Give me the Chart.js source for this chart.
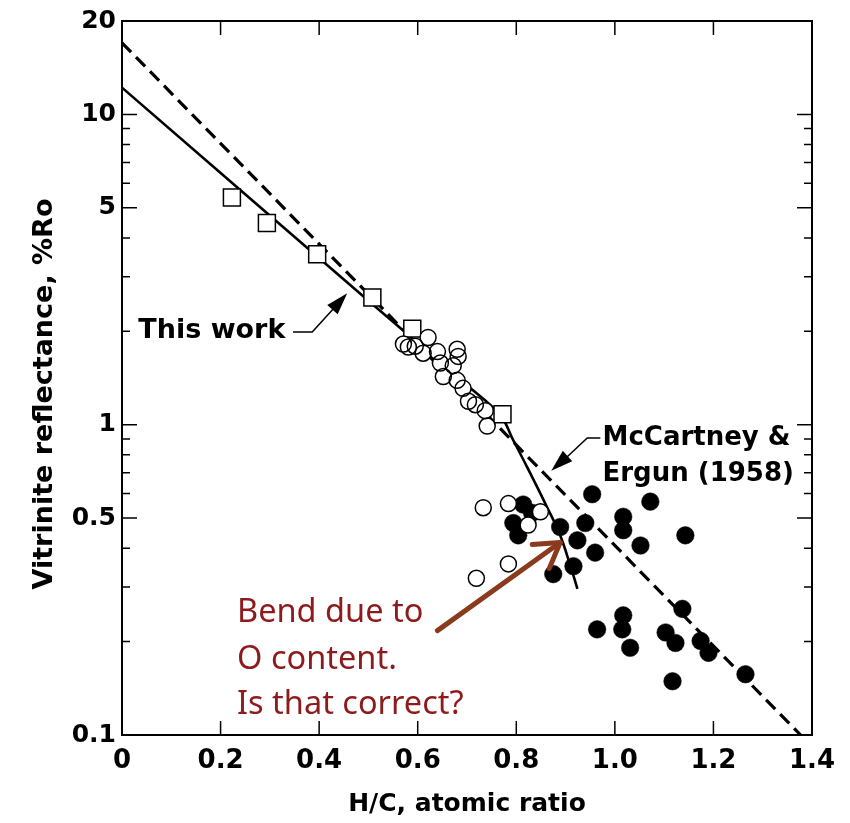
<!DOCTYPE html>
<html><head><meta charset="utf-8">
<script src="https://cdn.jsdelivr.net/npm/chart.js@4.4.1/dist/chart.umd.min.js"></script>
<style>html,body{margin:0;padding:0;background:#fff}#wrap{width:850px;height:823px}</style>
</head><body><div id="wrap"><canvas id="c" width="850" height="823"></canvas></div>
<script>
// ---- data ----
const xTickValues = [0, 0.2, 0.4, 0.6, 0.8, 1.0, 1.2, 1.4];
const yTickValues = [0.1, 0.5, 1, 5, 10, 20];
const yMajorMarks = [0.5, 1, 5, 10];
const yMinorMarks = [0.2, 0.3, 0.4, 0.6, 0.7, 0.8, 0.9, 2, 3, 4, 6, 7, 8, 9];

const squaresX = [0.223, 0.294, 0.396, 0.508, 0.589, 0.772];
const squaresY = [5.4, 4.47, 3.54, 2.57, 2.04, 1.08];

const openX = [0.571,0.581,0.595,0.611,0.621,0.640,0.680,0.682,0.646,0.672,0.652,0.680,0.692,0.703,0.717,0.737,0.741,0.733,0.784,0.849,0.824,0.784,0.719];
const openY = [1.82,1.78,1.79,1.70,1.91,1.72,1.75,1.66,1.58,1.55,1.43,1.39,1.31,1.19,1.16,1.11,0.99,0.54,0.557,0.524,0.475,0.356,0.32];

const filledX = [0.814,0.832,0.794,0.804,0.889,0.940,0.954,0.924,0.960,0.916,0.875,1.017,1.017,1.052,1.072,1.143,0.964,1.017,1.015,1.031,1.103,1.123,1.137,1.174,1.190,1.117,1.265];
const filledY = [0.553,0.520,0.482,0.440,0.468,0.482,0.597,0.424,0.387,0.35,0.33,0.505,0.457,0.408,0.565,0.44,0.219,0.243,0.219,0.191,0.214,0.198,0.255,0.201,0.184,0.149,0.157];

const thisWorkX = [0, 0.5, 0.7, 0.767, 0.794, 0.822, 0.863, 0.889, 0.91, 0.924];
const thisWorkY = [12.2, 2.51, 1.34, 1.075, 0.89, 0.73, 0.54, 0.44, 0.35, 0.296];

const mcCartneyX = [0, 1.377];
const mcCartneyY = [17, 0.1];

const labelThisWork = 'This work';
const labelMcCartney = ['McCartney &', 'Ergun (1958)'];
const noteLines = ['Bend due to', 'O content.', 'Is that correct?'];
const xTitle = 'H/C, atomic ratio';
const yTitle = 'Vitrinite reflectance, %Ro';

// ---- helpers ----
const pts = (xs, ys) => xs.map((x, i) => ({x: x, y: ys[i]}));
const BOLD = '"DejaVu Sans", "Liberation Sans", Arial, sans-serif';

function arrowHead(ctx, fx, fy, tx, ty, len, half) {
  const ang = Math.atan2(ty - fy, tx - fx);
  ctx.beginPath();
  ctx.moveTo(tx, ty);
  ctx.lineTo(tx - len*Math.cos(ang) + half*Math.sin(ang), ty - len*Math.sin(ang) - half*Math.cos(ang));
  ctx.lineTo(tx - len*Math.cos(ang) - half*Math.sin(ang), ty - len*Math.sin(ang) + half*Math.cos(ang));
  ctx.closePath();
  ctx.fill();
}

const decorPlugin = {
  id: 'decor',
  afterDraw(chart) {
    const ctx = chart.ctx, a = chart.chartArea;
    const xs = chart.scales.x, ys = chart.scales.y;
    const X = v => xs.getPixelForValue(v), Y = v => ys.getPixelForValue(v);
    ctx.save();
    ctx.strokeStyle = '#000'; ctx.fillStyle = '#000';
    // frame
    ctx.lineWidth = 2;
    ctx.strokeRect(a.left, a.top, a.width, a.height);
    // inner tick marks
    ctx.lineWidth = 1.5;
    ctx.beginPath();
    xTickValues.forEach(v => {
      if (v <= 0 || v >= 1.4) return;
      const p = X(v);
      ctx.moveTo(p, a.bottom); ctx.lineTo(p, a.bottom - 14);
      ctx.moveTo(p, a.top); ctx.lineTo(p, a.top + 14);
    });
    yMajorMarks.forEach(v => {
      const p = Y(v);
      ctx.moveTo(a.left, p); ctx.lineTo(a.left + 15, p);
      ctx.moveTo(a.right, p); ctx.lineTo(a.right - 15, p);
    });
    yMinorMarks.forEach(v => {
      const p = Y(v);
      ctx.moveTo(a.left, p); ctx.lineTo(a.left + 8, p);
      ctx.moveTo(a.right, p); ctx.lineTo(a.right - 8, p);
    });
    ctx.stroke();

    // y-axis title (rotated)
    ctx.save();
    ctx.font = 'bold 27px ' + BOLD;
    ctx.textAlign = 'center'; ctx.textBaseline = 'middle';
    ctx.translate(45, (a.top + a.bottom) / 2 + 16);
    ctx.rotate(-Math.PI / 2);
    ctx.fillText(yTitle, 0, 0);
    ctx.restore();

    // "This work" label + leader arrow
    ctx.font = 'bold 27px ' + BOLD;
    ctx.textBaseline = 'middle'; ctx.textAlign = 'left';
    ctx.fillText(labelThisWork, X(0.033), Y(2.01));
    ctx.lineWidth = 1.5;
    ctx.beginPath();
    ctx.moveTo(X(0.347), Y(1.99)); ctx.lineTo(X(0.386), Y(1.99)); ctx.lineTo(X(0.44), Y(2.47));
    ctx.stroke();
    arrowHead(ctx, X(0.386), Y(1.99), X(0.457), Y(2.65), 22, 7);

    // McCartney label + leader arrow
    ctx.font = 'bold 26px ' + BOLD;
    ctx.fillText(labelMcCartney[0], X(0.975), Y(0.906));
    ctx.fillText(labelMcCartney[1], X(0.975), Y(0.694));
    ctx.beginPath();
    ctx.moveTo(X(0.9706), Y(0.906)); ctx.lineTo(X(0.944), Y(0.906)); ctx.lineTo(X(0.885), Y(0.74));
    ctx.stroke();
    arrowHead(ctx, X(0.944), Y(0.906), X(0.871), Y(0.71), 22, 7);

    // red note
    ctx.fillStyle = '#8E1B1B';
    ctx.font = '32.5px "Noto Sans", "Open Sans", sans-serif';
    ctx.textBaseline = 'alphabetic';
    const base = [0.232, 0.163, 0.117];
    noteLines.forEach((t, i) => ctx.fillText(t, X(0.2335), Y(base[i])));
    // brown arrow
    const fx = X(0.640), fy = Y(0.217), tx = X(0.889), ty = Y(0.417);
    ctx.strokeStyle = '#8B3A1E'; ctx.lineWidth = 5; ctx.lineCap = 'round'; ctx.lineJoin = 'round';
    ctx.beginPath(); ctx.moveTo(fx, fy); ctx.lineTo(tx, ty); ctx.stroke();
    const ang = Math.atan2(ty - fy, tx - fx), L = 28, sp = 0.55;
    ctx.beginPath();
    ctx.moveTo(tx - L*Math.cos(ang - sp), ty - L*Math.sin(ang - sp));
    ctx.lineTo(tx, ty);
    ctx.lineTo(tx - L*Math.cos(ang + sp), ty - L*Math.sin(ang + sp));
    ctx.stroke();
    ctx.restore();
  }
};

new Chart(document.getElementById('c'), {
  type: 'scatter',
  data: {
    datasets: [
      { label: 'open circles outline', data: pts(openX, openY), order: 0,
        pointStyle: 'circle', pointRadius: 8, backgroundColor: 'rgba(255,255,255,0)', borderColor: '#000', borderWidth: 1.5 },
      { label: 'open circles fill', data: pts(openX, openY), order: 1,
        pointStyle: 'circle', pointRadius: 8, backgroundColor: '#fff', borderWidth: 0 },
      { label: 'squares', data: pts(squaresX, squaresY), order: 2,
        pointStyle: 'rect', pointRadius: 12, backgroundColor: '#fff', borderColor: '#000', borderWidth: 1.5 },
      { label: 'filled circles', data: pts(filledX, filledY), order: 3,
        pointStyle: 'circle', pointRadius: 8.8, backgroundColor: '#000', borderColor: '#000', borderWidth: 0.5 },
      { type: 'line', label: 'This work', data: pts(thisWorkX, thisWorkY), order: 4,
        borderColor: '#000', borderWidth: 2.6, pointRadius: 0, showLine: true, fill: false,
        tension: 0.4 },
      { type: 'line', label: 'McCartney & Ergun (1958)', data: pts(mcCartneyX, mcCartneyY), order: 5,
        borderColor: '#000', borderWidth: 3.2, borderDash: [13, 7], pointRadius: 0, showLine: true, fill: false }
    ]
  },
  options: {
    responsive: false,
    animation: false,
    devicePixelRatio: 1,
    layout: { padding: { left: 0, right: 38, top: 18, bottom: 0 } },
    plugins: { legend: { display: false }, tooltip: { enabled: false } },
    scales: {
      x: {
        type: 'linear', min: 0, max: 1.4, position: 'bottom',
        grid: { display: false, drawTicks: false }, border: { display: false },
        afterBuildTicks: s => { s.ticks = xTickValues.map(v => ({ value: v })); },
        afterFit: s => { s.height = 88; },
        ticks: { color: '#000', padding: 11, maxRotation: 0, autoSkip: false,
          font: { family: BOLD, weight: 'bold', size: 26 },
          callback: v => (v === 0 ? '0' : Number(v).toFixed(1)) },
        title: { display: true, text: xTitle, color: '#000',
          font: { family: BOLD, weight: 'bold', size: 25 }, padding: { top: 0, bottom: 4 } }
      },
      y: {
        type: 'logarithmic', min: 0.1, max: 20, position: 'left',
        grid: { display: false, drawTicks: false }, border: { display: false },
        afterBuildTicks: s => { s.ticks = yTickValues.map(v => ({ value: v })); },
        afterFit: s => { s.width = 122; },
        ticks: { color: '#000', padding: 6, autoSkip: false,
          font: { family: BOLD, weight: 'bold', size: 25 },
          callback: v => String(v) },
        title: { display: false, text: yTitle }
      }
    }
  },
  plugins: [decorPlugin]
});
</script></body></html>
